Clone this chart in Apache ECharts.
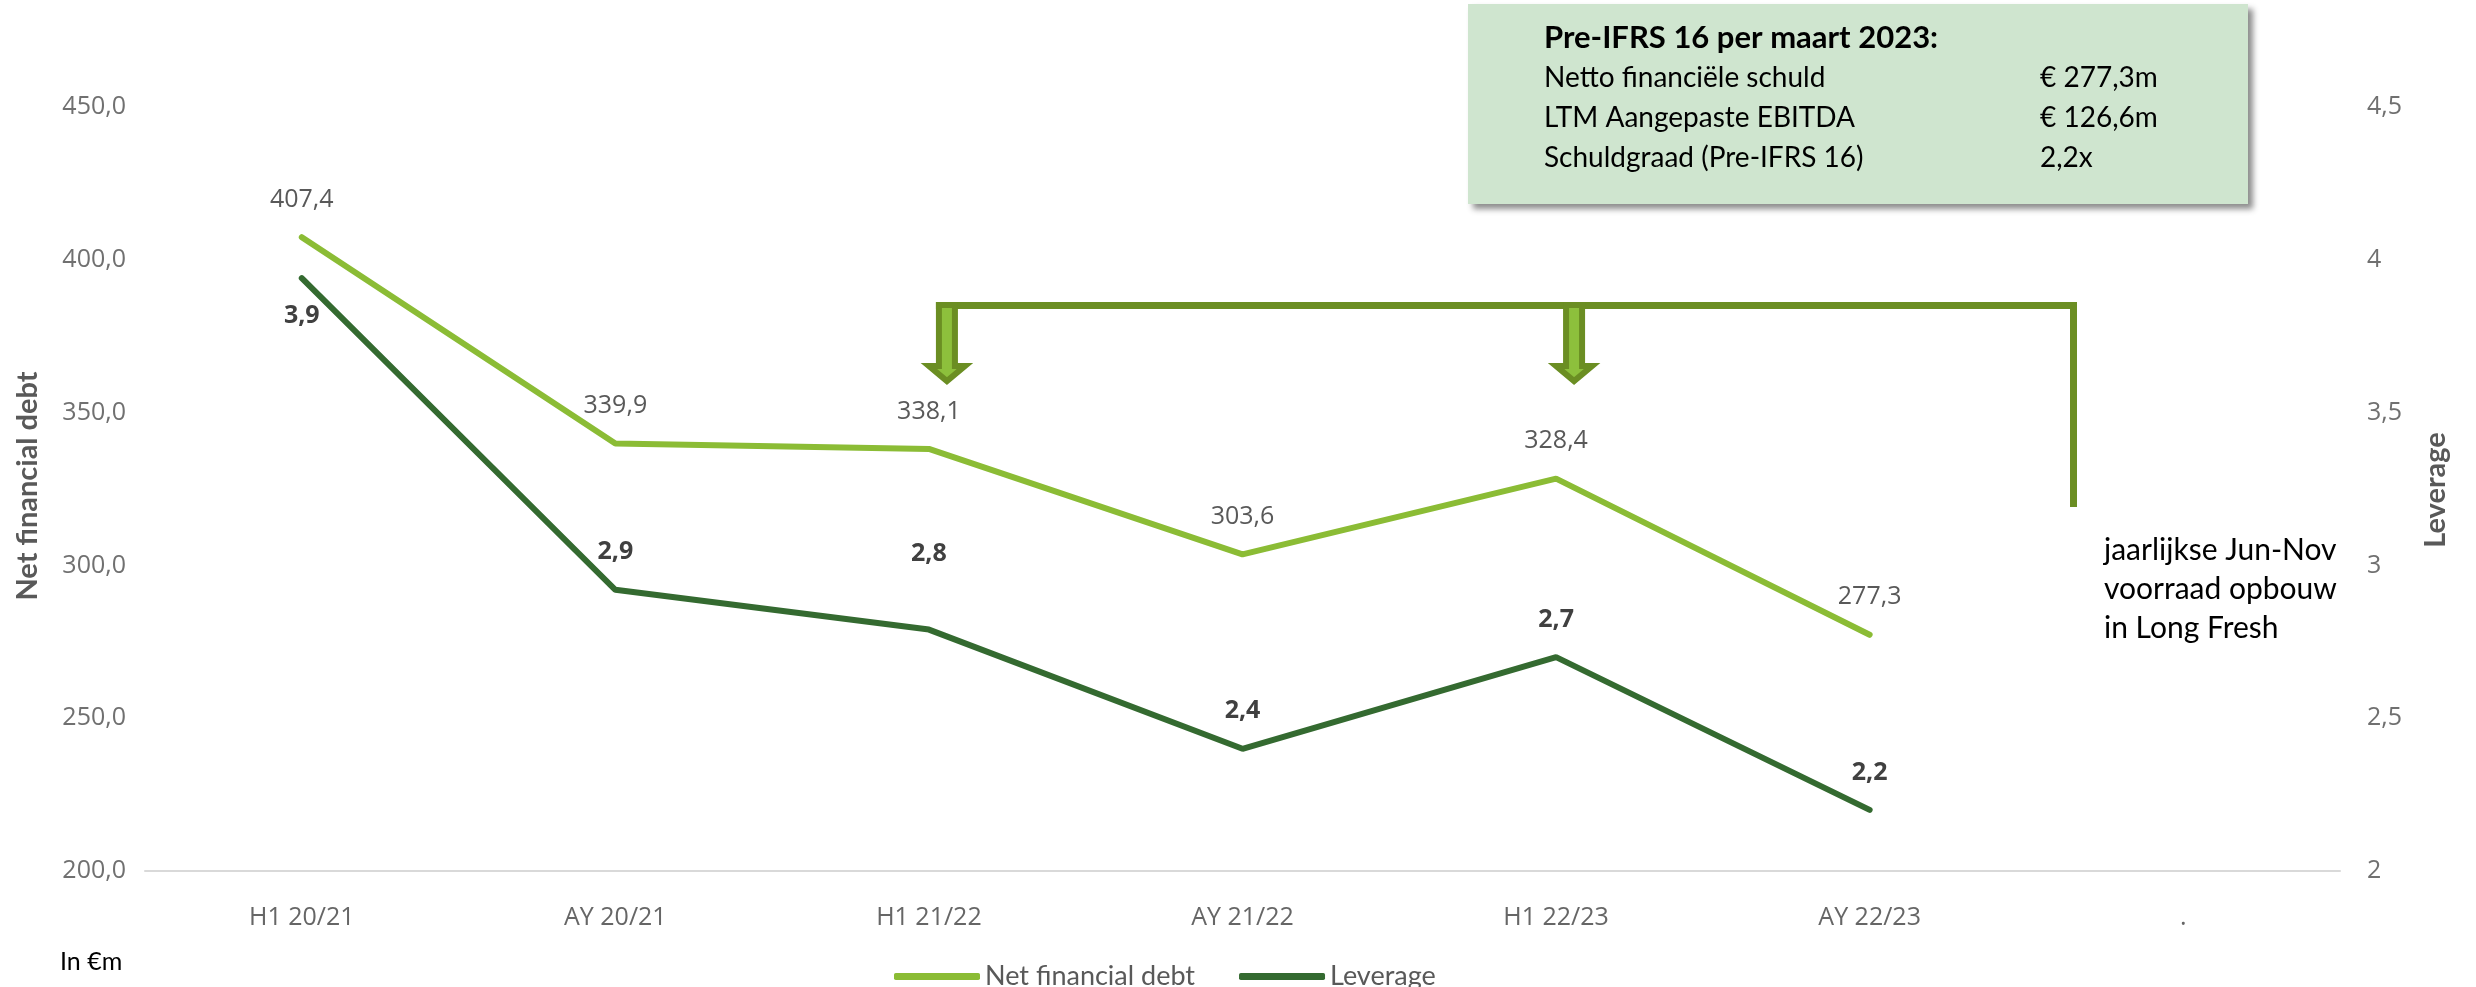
<!DOCTYPE html>
<html>
<head>
<meta charset="utf-8">
<script src="https://cdn.jsdelivr.net/npm/echarts@6/dist/echarts.min.js"></script>
<style>
html, body { margin: 0; padding: 0; background: #fff; }
#chart { width: 2476px; height: 987px; }
</style>
</head>
<body>
<div id="chart"></div>
<script>
// data
const categories = ['H1 20/21', 'AY 20/21', 'H1 21/22', 'AY 21/22', 'H1 22/23', 'AY 22/23', '.']
const netDebt = [407.4, 339.9, 338.1, 303.6, 328.4, 277.3]
const leverage = [3.94, 2.92, 2.79, 2.40, 2.70, 2.20]
const boxTitle = 'Pre-IFRS 16 per maart 2023:'
const boxLabels = ['Netto financiële schuld', 'LTM Aangepaste EBITDA', 'Schuldgraad (Pre-IFRS 16)']
const boxValues = ['€ 277,3m', '€ 126,6m', '2,2x']
const noteLines = ['jaarlijkse Jun-Nov', 'voorraad opbouw', 'in Long Fresh']
const arrowTargets = ['H1 21/22', 'H1 22/23']

const comma = (v, d) => v.toFixed(d).replace('.', ',')
const numFont = '"Open Sans", "Noto Sans", sans-serif'
const txtFont = 'Lato, "Open Sans", sans-serif'

const chart = echarts.init(document.getElementById('chart'))

const levData = leverage.map((v, i) => {
  if (i === 0) return { value: v, label: { position: 'bottom', distance: 24 } }
  if (i === 2) return { value: v, label: { distance: 62 } }
  return v
})

chart.setOption({
  animation: false,
  grid: { left: 145, right: 136, top: 107, bottom: 116 },
  legend: {
    data: ['Net financial debt', 'Leverage'],
    left: 889,
    top: 958,
    icon: 'roundRect',
    itemWidth: 86,
    itemHeight: 7,
    itemGap: 44,
    textStyle: { fontFamily: txtFont, fontSize: 27, color: '#595959' }
  },
  xAxis: {
    type: 'category',
    data: categories,
    axisLine: { lineStyle: { color: '#d9d9d9', width: 2 } },
    axisTick: { show: false },
    axisLabel: { margin: 34, fontFamily: numFont, fontSize: 25, color: '#666' },
    splitLine: { show: false }
  },
  yAxis: [
    {
      type: 'value',
      min: 200, max: 450, interval: 50,
      axisLine: { show: false },
      axisTick: { show: false },
      splitLine: { show: false },
      axisLabel: { margin: 19, fontFamily: numFont, fontSize: 25, color: '#707070', formatter: v => comma(v, 1) }
    },
    {
      type: 'value',
      min: 2, max: 4.5, interval: 0.5,
      axisLine: { show: false },
      axisTick: { show: false },
      splitLine: { show: false },
      axisLabel: { margin: 27, fontFamily: numFont, fontSize: 25, color: '#707070', formatter: v => String(v).replace('.', ',') }
    }
  ],
  series: [
    {
      name: 'Net financial debt',
      type: 'line',
      data: netDebt,
      yAxisIndex: 0,
      symbol: 'circle',
      symbolSize: 2,
      color: '#8bbc35',
      lineStyle: { width: 6, color: '#8bbc35', cap: 'round' },
      label: {
        show: true, position: 'top', distance: 24,
        fontFamily: numFont, fontSize: 25, color: '#595959',
        formatter: p => comma(p.value, 1)
      },
      z: 3
    },
    {
      name: 'Leverage',
      type: 'line',
      data: levData,
      yAxisIndex: 1,
      symbol: 'circle',
      symbolSize: 2,
      color: '#346a30',
      lineStyle: { width: 6, color: '#346a30', cap: 'round' },
      label: {
        show: true, position: 'top', distance: 24,
        fontFamily: numFont, fontSize: 25, fontWeight: 'bold', color: '#404040',
        formatter: p => comma(p.value, 1)
      },
      z: 2
    }
  ]
})

// text block top right
const txt = (t, x, y, size, extra) => ({
  type: 'text', z: 11,
  style: Object.assign({ text: t, x: x, y: y, fontFamily: txtFont, fontSize: size, fill: '#000', verticalAlign: 'middle', textVerticalAlign: 'middle' }, extra || {})
})
const graphics = [
  {
    type: 'rect', z: 10,
    shape: { x: 1468, y: 4, width: 780, height: 200 },
    style: { fill: '#cfe5cf', shadowBlur: 6, shadowOffsetX: 5, shadowOffsetY: 5, shadowColor: 'rgba(0,0,0,0.45)' }
  },
  txt(boxTitle, 1544, 38, 31, { fontWeight: 'bold' })
]
boxLabels.forEach((t, i) => {
  graphics.push(txt(t, 1544, 78 + i * 40, 28))
  graphics.push(txt(boxValues[i], 2040, 78 + i * 40, 28))
})
noteLines.forEach((t, i) => graphics.push(txt(t, 2104, 550 + i * 39, 30)))
graphics.push(txt('In €m', 60, 962, 25))
graphics.push({
  type: 'text', x: 28, y: 486, rotation: Math.PI / 2, z: 11,
  style: { text: 'Net financial debt', fontFamily: txtFont, fontSize: 29, fontWeight: 'bold', fill: '#595959', align: 'center', textAlign: 'center', verticalAlign: 'middle', textVerticalAlign: 'middle' }
})
graphics.push({
  type: 'text', x: 2436, y: 490, rotation: Math.PI / 2, z: 11,
  style: { text: 'Leverage', fontFamily: txtFont, fontSize: 29, fontWeight: 'bold', fill: '#595959', align: 'center', textAlign: 'center', verticalAlign: 'middle', textVerticalAlign: 'middle' }
})

// bracket with arrows pointing at the H1 points
const arrowX = arrowTargets.map(c => chart.convertToPixel({ xAxisIndex: 0 }, c) + 18)
graphics.push({
  type: 'rect', z: 12,
  shape: { x: arrowX[0] - 11, y: 302, width: 2077 - (arrowX[0] - 11), height: 7 },
  style: { fill: '#6b8e23' }
})
graphics.push({
  type: 'rect', z: 12,
  shape: { x: 2070, y: 302, width: 7, height: 205 },
  style: { fill: '#6b8e23' }
})
arrowX.forEach(cx => {
  graphics.push({
    type: 'polygon', z: 13,
    shape: {
      points: [[cx - 8, 305], [cx + 8, 305], [cx + 8, 366], [cx + 18, 366], [cx, 381], [cx - 18, 366], [cx - 8, 366]]
    },
    style: { fill: '#8dc03c', stroke: '#6b8e23', lineWidth: 6, lineJoin: 'miter' }
  })
})
chart.setOption({ graphic: graphics })
</script>
</body>
</html>
